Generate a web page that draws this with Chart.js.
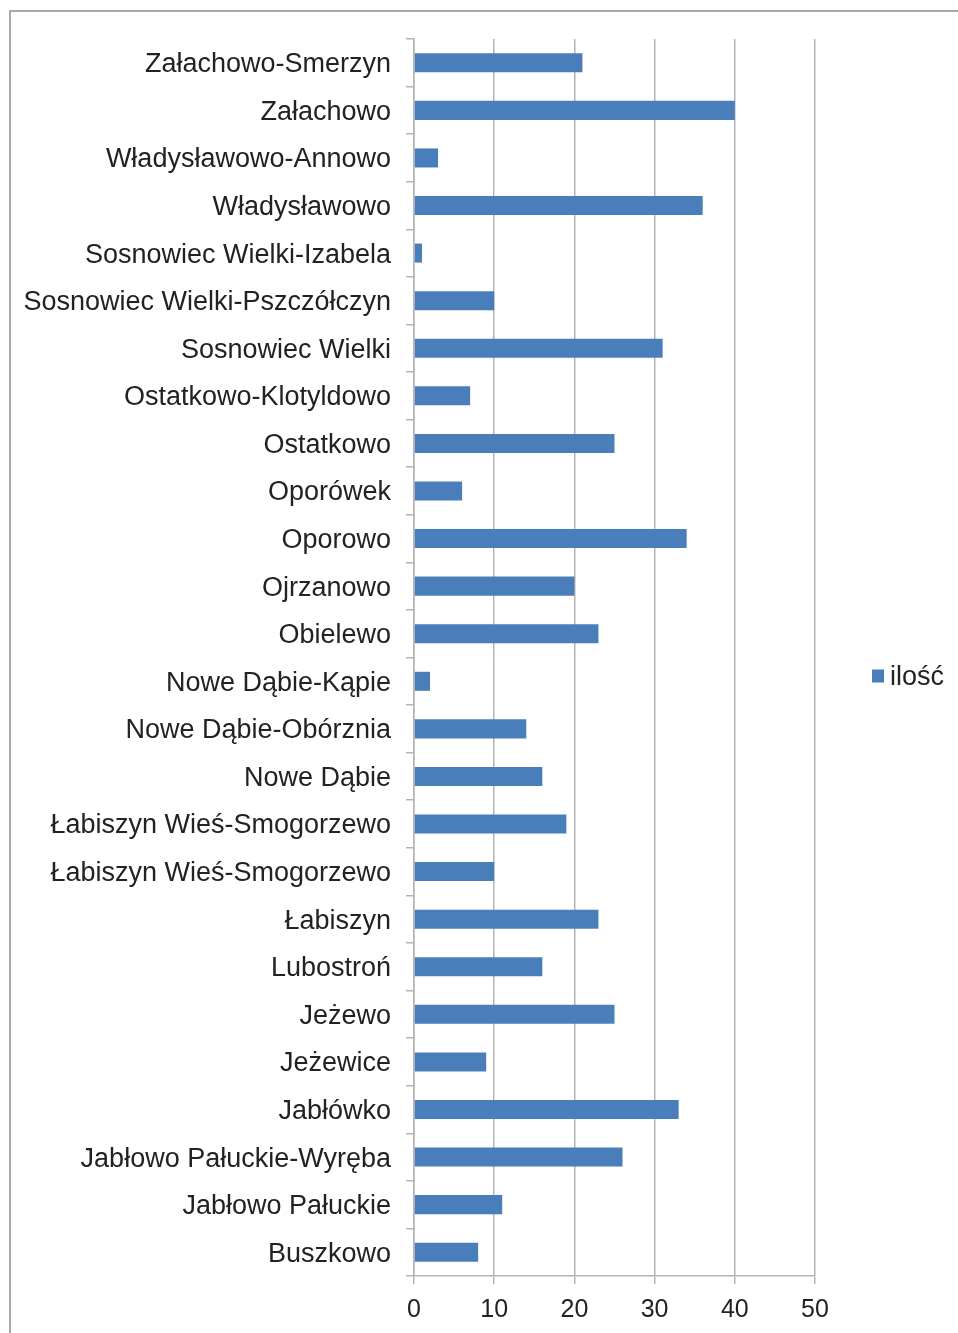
<!DOCTYPE html>
<html>
<head>
<meta charset="utf-8">
<script src="https://cdn.jsdelivr.net/npm/chart.js@4.4.1/dist/chart.umd.min.js"></script>
<style>
  html, body { margin: 0; padding: 0; background: #fff; overflow: hidden; }
  #wrap { position: relative; width: 958px; height: 1333px; }
  #frame { position: absolute; left: 9px; top: 10px; width: 1000px; height: 1400px; border: 2px solid #a9a9a9; box-sizing: border-box; }
  #chart { position: absolute; left: 0; top: 0; }
</style>
</head>
<body>
<div id="wrap">
  <div id="frame"></div>
  <canvas id="chart" width="958" height="1333"></canvas>
</div>
<script>
// kategorie od góry do dołu
const miejscowosci = [
  'Załachowo-Smerzyn', 'Załachowo', 'Władysławowo-Annowo', 'Władysławowo',
  'Sosnowiec Wielki-Izabela', 'Sosnowiec Wielki-Pszczółczyn', 'Sosnowiec Wielki',
  'Ostatkowo-Klotyldowo', 'Ostatkowo', 'Oporówek', 'Oporowo', 'Ojrzanowo', 'Obielewo',
  'Nowe Dąbie-Kąpie', 'Nowe Dąbie-Obórznia', 'Nowe Dąbie',
  'Łabiszyn Wieś-Smogorzewo', 'Łabiszyn Wieś-Smogorzewo', 'Łabiszyn', 'Lubostroń',
  'Jeżewo', 'Jeżewice', 'Jabłówko', 'Jabłowo Pałuckie-Wyręba', 'Jabłowo Pałuckie', 'Buszkowo'
];
const ilosc = [21, 40, 3, 36, 1, 10, 31, 7, 25, 6, 34, 20, 23, 2, 14, 16, 19, 10, 23, 16, 25, 9, 33, 26, 11, 8];
const seriaNazwa = 'ilość';
const osX = { min: 0, max: 50, krok: 10 };

const kolorSlupka = '#4a7ebb';
const kolorSiatki = '#b4b4b4';
const kolorTekstu = '#222222';
const czcionka = '"Liberation Sans", Arial, sans-serif';

// legenda rysowana obok obszaru wykresu
const legendaPlugin = {
  id: 'legendaBoczna',
  afterDraw(chart) {
    const ctx = chart.ctx;
    const area = chart.chartArea;
    const ds = chart.data.datasets[0];
    const x = area.right + 57;
    const y = (area.top + area.bottom) / 2 + 19;
    ctx.save();
    ctx.fillStyle = ds.backgroundColor;
    ctx.fillRect(x, y - 7, 12, 13);
    ctx.fillStyle = kolorTekstu;
    ctx.font = '27px ' + czcionka;
    ctx.textBaseline = 'middle';
    ctx.textAlign = 'left';
    ctx.fillText(ds.label, x + 18, y + 1);
    ctx.restore();
  }
};

const ctx = document.getElementById('chart').getContext('2d');
new Chart(ctx, {
  type: 'bar',
  data: {
    labels: miejscowosci,
    datasets: [{
      label: seriaNazwa,
      data: ilosc,
      backgroundColor: kolorSlupka,
      borderWidth: 0,
      barPercentage: 0.4,
      categoryPercentage: 1.0
    }]
  },
  options: {
    indexAxis: 'y',
    responsive: false,
    animation: false,
    layout: { padding: { left: 0, right: 143, top: 39, bottom: 0 } },
    plugins: {
      legend: { display: false },
      tooltip: { enabled: false }
    },
    scales: {
      x: {
        min: osX.min,
        max: osX.max,
        ticks: {
          stepSize: osX.krok,
          color: kolorTekstu,
          padding: 11,
          font: { family: czcionka, size: 25 }
        },
        grid: { color: kolorSiatki, lineWidth: 1.5, tickLength: 8 },
        border: { color: kolorSiatki, width: 1.5 },
        afterFit(scale) { scale.height = 57; }
      },
      y: {
        ticks: {
          color: kolorTekstu,
          padding: 15,
          labelOffset: 2,
          autoSkip: false,
          font: { family: czcionka, size: 27 }
        },
        grid: { color: kolorSiatki, lineWidth: 1.5, drawOnChartArea: false, tickLength: 8, offset: true },
        border: { color: kolorSiatki, width: 1.5 },
        afterFit(scale) { scale.width = 414; }
      }
    }
  },
  plugins: [legendaPlugin]
});
</script>
</body>
</html>
